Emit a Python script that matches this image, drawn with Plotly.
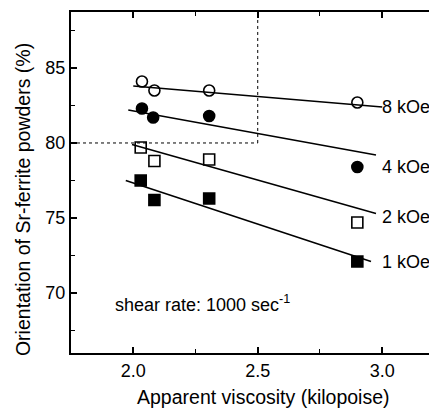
import plotly.graph_objects as go

# ---- data ----
series_names = ["8 kOe", "4 kOe", "2 kOe", "1 kOe"]
viscosity = [
    [2.035, 2.085, 2.305, 2.90],
    [2.035, 2.080, 2.305, 2.90],
    [2.030, 2.085, 2.305, 2.90],
    [2.030, 2.085, 2.305, 2.90],
]
orientation = [
    [84.1, 83.5, 83.5, 82.7],
    [82.3, 81.7, 81.8, 78.4],
    [79.7, 78.8, 78.9, 74.7],
    [77.5, 76.2, 76.3, 72.1],
]
# fitted straight lines (endpoints)
fit_x0 = [2.00, 1.98, 1.995, 1.97]
fit_y0 = [83.8, 82.2, 79.9, 77.5]
fit_x1 = [3.00, 2.975, 2.975, 2.955]
fit_y1 = [82.4, 79.2, 75.3, 72.1]
# end labels
label_x = 3.0
label_y = [82.4, 78.4, 75.05, 72.05]
marker_symbols = ["circle-open", "circle", "square-open", "square"]

ref_x = 2.5
ref_y = 80.0
x_range = [1.75, 3.22]
y_range = [66.0, 88.73]
x_ticks = [2.0, 2.5, 3.0]
x_ticktext = ["2.0", "2.5", "3.0"]
y_ticks = [70, 75, 80, 85]

FONT = "Arial, 'Liberation Sans', sans-serif"
FS = 18
TFS = 19.5

fig = go.Figure()

for i, name in enumerate(series_names):
    fig.add_trace(go.Scatter(
        x=[fit_x0[i], fit_x1[i]], y=[fit_y0[i], fit_y1[i]],
        mode="lines", line=dict(color="black", width=1.6),
        showlegend=False, hoverinfo="skip"))
    sym = marker_symbols[i]
    fig.add_trace(go.Scatter(
        x=viscosity[i], y=orientation[i], mode="markers", name=name,
        marker=dict(symbol=sym, size=11, color="black",
                    line=dict(color="black", width=1.6)),
        showlegend=False))
    fig.add_annotation(x=label_x, y=label_y[i], text=name, showarrow=False,
                       xanchor="left", yanchor="middle", xshift=-2,
                       font=dict(family=FONT, size=FS, color="black"))

# invisible trace to anchor the top/right tick axes
fig.add_trace(go.Scatter(x=[x_range[0]], y=[y_range[0]], xaxis="x2", yaxis="y2",
                         mode="markers", marker=dict(opacity=0),
                         showlegend=False, hoverinfo="skip"))

# dotted reference lines
fig.add_shape(type="line", x0=x_range[0], x1=ref_x, y0=ref_y, y1=ref_y,
              line=dict(color="black", width=1, dash="dot"))
fig.add_shape(type="line", x0=ref_x, x1=ref_x, y0=ref_y, y1=y_range[1],
              line=dict(color="black", width=1, dash="dot"))

fig.add_annotation(x=1.919, y=69.33, text="shear rate: 1000 sec<sup>-1</sup>",
                   showarrow=False, xanchor="left", yanchor="middle",
                   font=dict(family=FONT, size=FS, color="black"))

# axis titles
fig.add_annotation(xref="paper", yref="paper", x=0.5246, y=-0.13,
                   text="Apparent viscosity (kilopoise)", showarrow=False,
                   xanchor="center", yanchor="middle",
                   font=dict(family=FONT, size=TFS, color="black"))
fig.add_annotation(xref="paper", yref="paper", x=-0.1325, y=0.45,
                   text="Orientation of Sr-ferrite powders (%)", showarrow=False,
                   textangle=-90, xanchor="center", yanchor="middle",
                   font=dict(family=FONT, size=TFS, color="black"))

tick_common = dict(ticks="inside", ticklen=6, tickwidth=1.5, tickcolor="black",
                   showgrid=False, zeroline=False, automargin=False)
x_minor = dict(ticks="inside", dtick=0.25, tick0=2.0, ticklen=4,
               tickwidth=1.2, tickcolor="black")
y_minor = dict(ticks="inside", dtick=2.5, tick0=70, ticklen=4,
               tickwidth=1.2, tickcolor="black")

fig.update_layout(
    xaxis=dict(range=x_range, tickvals=x_ticks, ticktext=x_ticktext,
               showline=True, linecolor="black", linewidth=2,
               minor=x_minor, tickfont=dict(family=FONT, size=FS, color="black"),
               **tick_common),
    yaxis=dict(range=y_range, tickvals=y_ticks,
               showline=True, linecolor="black", linewidth=2,
               minor=y_minor, tickfont=dict(family=FONT, size=FS, color="black"),
               **tick_common),
    xaxis2=dict(range=x_range, tickvals=x_ticks, overlaying="x", side="top",
                anchor="y", showticklabels=False,
                showline=True, linecolor="black", linewidth=2,
                minor=x_minor, **tick_common),
    yaxis2=dict(range=y_range, tickvals=y_ticks, overlaying="y", side="right",
                anchor="x", showticklabels=False, showline=False,
                minor=y_minor, **tick_common),
)

# the page body has an 8px default margin: size and margins compensate for it
fig.update_layout(width=429, height=400,
                  margin=dict(l=63, r=0, t=4, b=55, autoexpand=False),
                  paper_bgcolor="white", plot_bgcolor="white",
                  showlegend=False)

fig.write_html("out.html")
